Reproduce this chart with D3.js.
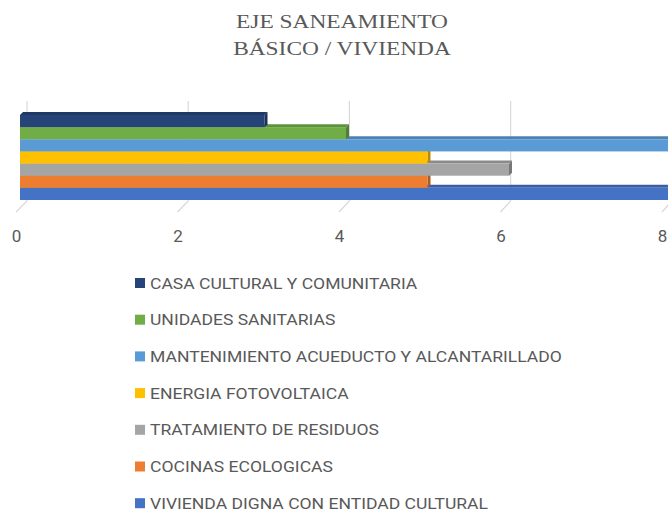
<!DOCTYPE html>
<html>
<head>
<meta charset="utf-8">
<script src="https://cdn.jsdelivr.net/npm/d3@7"></script>
<style>
  html, body { margin: 0; padding: 0; background: #fff; }
  svg { display: block; }
</style>
</head>
<body>
<div id="chart"></div>
<script>
// datos del grafico (de arriba hacia abajo)
const categories = [
  "CASA CULTURAL Y COMUNITARIA",
  "UNIDADES SANITARIAS",
  "MANTENIMIENTO ACUEDUCTO Y ALCANTARILLADO",
  "ENERGIA FOTOVOLTAICA",
  "TRATAMIENTO DE RESIDUOS",
  "COCINAS ECOLOGICAS",
  "VIVIENDA DIGNA CON ENTIDAD CULTURAL"
];
const values = [3, 4, 8, 5, 6, 5, 8];
const colors = ["#264478", "#70AD47", "#5B9BD5", "#FFC000", "#A5A5A5", "#ED7D31", "#4472C4"];
const tickValues = [0, 2, 4, 6, 8];
const titleLines = ["EJE SANEAMIENTO", "BÁSICO / VIVIENDA"];

const W = 668, H = 512;
const svg = d3.select("#chart").append("svg").attr("width", W).attr("height", H);

// titulo (la imagen original esta algo estirada en horizontal)
svg.append("text")
  .attr("transform", "translate(342,0) scale(1.2,1)")
  .attr("text-anchor", "middle")
  .style("font-family", "'Liberation Serif', 'Times New Roman', serif")
  .style("font-size", "19.5px").attr("fill", "#595959")
  .selectAll("tspan").data(titleLines).enter()
  .append("tspan").attr("x", 0).attr("y", (d, i) => 28 + i * 27).text(d => d);

// escalas: frente de las barras, pared trasera, borde del piso
const x = d3.scaleLinear().domain([0, 8]).range([20, 20 + 8 * 81.5]);
const xBack = d3.scaleLinear().domain([0, 8]).range([27, 27 + 8 * 80.6]);
const xFloor = d3.scaleLinear().domain([0, 8]).range([16, 662]);
const y = d3.scaleBand().domain(categories).range([115, 200]);
const dx = 3, dy = -3;

// lineas de la cuadricula (pared y piso)
const grid = svg.append("g").attr("stroke", "#d9d9d9").attr("stroke-width", 1.2);
grid.selectAll("line.v").data(tickValues).enter().append("line")
  .attr("class", "v")
  .attr("x1", d => xBack(d)).attr("x2", d => xBack(d))
  .attr("y1", 101).attr("y2", 201);
grid.selectAll("line.f").data(tickValues).enter().append("line")
  .attr("class", "f")
  .attr("x1", d => xFloor(d)).attr("y1", 212)
  .attr("x2", d => xBack(d)).attr("y2", 201);

// barras 3D, se dibujan de abajo hacia arriba
const bars = svg.append("g");
const order = d3.range(categories.length).reverse();
order.forEach(i => {
  const c = categories[i], v = values[i], col = colors[i];
  const x0 = x(0), x1 = x(v), y0 = y(c), y1 = y(c) + y.bandwidth();
  const g = bars.append("g");
  // cara superior
  g.append("polygon")
    .attr("points", [[x0, y0], [x0 + dx, y0 + dy], [x1 + dx, y0 + dy], [x1, y0]].join(" "))
    .attr("fill", d3.color(col).darker(0.5));
  // cara lateral
  g.append("polygon")
    .attr("points", [[x1, y0], [x1 + dx, y0 + dy], [x1 + dx, y1 + dy], [x1, y1]].join(" "))
    .attr("fill", d3.color(col).darker(0.9));
  // cara frontal
  g.append("rect")
    .attr("x", x0).attr("y", y0)
    .attr("width", x1 - x0).attr("height", y1 - y0)
    .attr("fill", col);
});

// etiquetas del eje
const axis = d3.axisBottom(xFloor).tickValues(tickValues).tickSize(0).tickPadding(0).tickFormat(d3.format("d"));
const ag = svg.append("g").attr("transform", "translate(0,230)").call(axis);
ag.select(".domain").remove();
ag.selectAll("text")
  .attr("dy", "0.72em")
  .attr("fill", "#595959")
  .style("font-family", "Roboto, 'Liberation Sans', sans-serif")
  .style("font-size", "17px");

// leyenda
const legend = svg.append("g");
const rows = legend.selectAll("g").data(categories).enter().append("g")
  .attr("transform", (d, i) => `translate(135,${283 + i * 36.7})`);
rows.append("rect").attr("x", 0).attr("y", -5).attr("width", 10).attr("height", 10)
  .attr("fill", (d, i) => colors[i]);
rows.append("text")
  .attr("transform", "translate(15,5.5) scale(1.17,1)")
  .attr("fill", "#595959")
  .style("font-family", "Roboto, 'Liberation Sans', sans-serif")
  .style("font-size", "15px")
  .text(d => d);
</script>
</body>
</html>
